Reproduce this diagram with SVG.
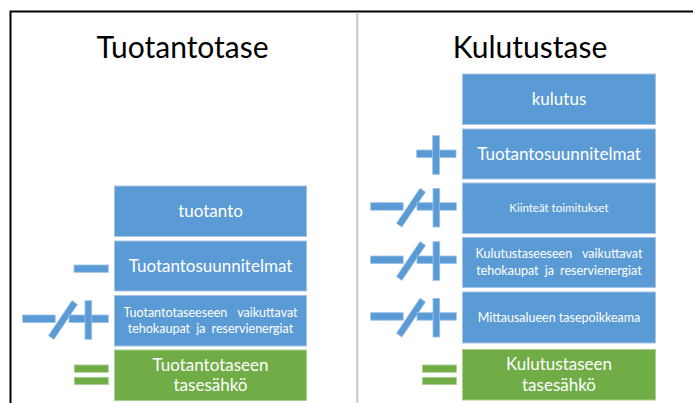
<svg xmlns="http://www.w3.org/2000/svg" width="693" height="403" viewBox="0 0 693 403">
<style>
.box{fill:#5B9BD5;stroke:#A7C3E3;stroke-width:1}
.gbox{fill:#70AD47;stroke:#A9CF8F;stroke-width:1}
.sym{fill:#5B9BD5;stroke:#9CC0E6;stroke-width:0.8}
.gsym{fill:#70AD47;stroke:#A9CF8F;stroke-width:0.8}
.title{font-family:Lato,"Open Sans",sans-serif;font-size:30px;fill:#000;text-anchor:middle}
.t16{font-family:Lato,"Open Sans",sans-serif;font-size:17px;fill:#fff;text-anchor:middle}
.t12{font-family:Lato,"Open Sans",sans-serif;font-size:12.5px;fill:#fff;text-anchor:middle}
.t11{font-family:Lato,"Open Sans",sans-serif;font-size:11.5px;fill:#fff;text-anchor:middle}
</style>
<defs>
<g id="plus">
<rect class="sym" x="0" y="0" width="39.3" height="7.5"/>
<rect class="sym" x="16" y="-14.3" width="6.7" height="38.6"/>
</g>
<g id="minusplus">
<rect class="sym" x="0" y="0" width="32.5" height="7.5"/>
<polygon class="sym" points="31.2,24.4 54.8,-10.6 49.3,-14.4 25.8,20.6"/>
<use href="#plus" x="46.3" y="0"/>
</g>
<g id="equals">
<rect class="gsym" x="0" y="0" width="34" height="7.3"/>
<rect class="gsym" x="0" y="12.3" width="34" height="7.3"/>
</g>
</defs>
<rect x="0" y="0" width="693" height="403" fill="#fff"/>
<g id="frame">
<path d="M10.5,403 V11.5 H693" fill="none" stroke="#000" stroke-width="2"/>
<line x1="357.3" y1="12.5" x2="357.3" y2="403" stroke="#C8C8C8" stroke-width="2"/>
</g>
<g id="title-left"><text class="title" x="182.5" y="58">Tuotantotase</text></g>
<g id="title-right"><text class="title" x="530" y="58">Kulutustase</text></g>

<g id="tuotanto">
<rect class="box" x="114.5" y="186" width="192" height="50.5"/>
<text class="t16" x="210.5" y="216.5">tuotanto</text>
</g>
<g id="tuotantosuunnitelmat-left">
<rect class="box" x="114.5" y="241" width="192" height="50"/>
<text class="t16" x="210.5" y="272.3">Tuotantosuunnitelmat</text>
</g>
<g id="tuotanto-tehokaupat">
<rect class="box" x="114.5" y="295.5" width="192" height="50.5"/>
<text class="t12" x="210.5" y="316.7" word-spacing="7">Tuotantotaseeseen vaikuttavat</text>
<text class="t12" x="210.5" y="332.7" word-spacing="3">tehokaupat ja reservienergiat</text>
</g>
<g id="tuotanto-tasesahko">
<rect class="gbox" x="114.5" y="350" width="192" height="50.5"/>
<text class="t16" x="210.5" y="370.7">Tuotantotaseen</text>
<text class="t16" x="210.5" y="390.7">tasesähkö</text>
</g>

<g id="kulutus">
<rect class="box" x="462.5" y="74" width="193" height="50.5"/>
<text class="t16" x="559" y="105">kulutus</text>
</g>
<g id="tuotantosuunnitelmat-right">
<rect class="box" x="462.5" y="129" width="193" height="50"/>
<text class="t16" x="559" y="160">Tuotantosuunnitelmat</text>
</g>
<g id="kiinteat">
<rect class="box" x="462.5" y="183" width="193" height="50.5"/>
<text class="t11" x="559" y="211.7">Kiinteät toimitukset</text>
</g>
<g id="kulutus-tehokaupat">
<rect class="box" x="462.5" y="237.5" width="193" height="50"/>
<text class="t12" x="559" y="258.3" word-spacing="7">Kulutustaseeseen vaikuttavat</text>
<text class="t12" x="559" y="275" word-spacing="3">tehokaupat ja reservienergiat</text>
</g>
<g id="mittausalue">
<rect class="box" x="462.5" y="292" width="193" height="51"/>
<text class="t12" x="559" y="321.7" font-size="12px">Mittausalueen tasepoikkeama</text>
</g>
<g id="kulutus-tasesahko">
<rect class="gbox" x="462.5" y="349.5" width="193" height="50.5"/>
<text class="t16" x="559" y="370">Kulutustaseen</text>
<text class="t16" x="559" y="390.7">tasesähkö</text>
</g>

<g id="operators">
<rect class="sym" x="74" y="265" width="34.3" height="7.3"/>
<use href="#minusplus" x="22.7" y="315"/>
<use href="#equals" x="74.3" y="365"/>
<use href="#plus" x="416.7" y="150"/>
<use href="#minusplus" x="370.7" y="202.7"/>
<use href="#minusplus" x="370.7" y="256"/>
<use href="#minusplus" x="370.7" y="312.7"/>
<use href="#equals" x="422.5" y="365"/>
</g>
</svg>
